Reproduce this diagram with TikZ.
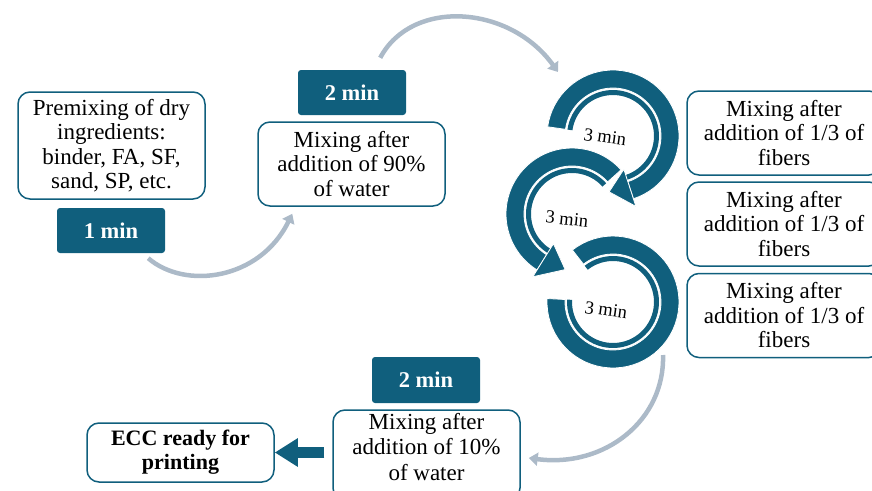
\documentclass[tikz,border=0pt]{standalone}
\usepackage{fontspec}
\setmainfont{Liberation Serif}
\usetikzlibrary{arrows.meta,calc}
\definecolor{ecc}{RGB}{16,95,125}
\definecolor{flow}{RGB}{172,186,200}
\tikzset{
  wbox/.style={draw=ecc, line width=1.5pt, rounded corners=12pt, fill=white, align=center, inner sep=0pt,
    font=\fontsize{23}{24.5}\selectfont},
  tbox/.style={fill=ecc, rounded corners=3pt, text=white, inner sep=0pt,
    font=\fontsize{22.5}{24}\selectfont\bfseries},
  ringlabel/.style={font=\fontsize{18.5}{20}\selectfont, inner sep=0pt},
  flowarrow/.style={draw=flow, line width=4.5pt, -{Triangle[length=9pt,width=13pt]}},
  blockarrow/.style={draw=ecc, line width=11pt, -{Triangle[length=23pt,width=27pt]}}
}
% ring arrow: #1 cx, #2 cy, #3 start angle, #4 end of body, #5 tip angle
\newcommand\ringarrow[5]{%
  \filldraw[ecc, draw=white, line width=0.8pt] plot[domain=#3:#4,samples=50] ({#1+66*cos(\x)},{#2+66*sin(\x)})
     -- plot[domain=#4:#3,samples=50] ({#1+48*cos(\x)},{#2+48*sin(\x)}) -- cycle;
  \fill[ecc] plot[domain=#3:#4,samples=50] ({#1+46*cos(\x)},{#2+46*sin(\x)})
     -- plot[domain=#4:#3,samples=50] ({#1+41*cos(\x)},{#2+41*sin(\x)}) -- cycle;
  \filldraw[ecc, draw=white, line width=0.8pt] ({#1+35*cos(#4)},{#2+35*sin(#4)}) -- ({#1+74*cos(#4)},{#2+74*sin(#4)})
     -- ({#1+56*cos(#5)},{#2+56*sin(#5)}) -- cycle;
}
\newcommand\ringplain[4]{%
  \filldraw[ecc, draw=white, line width=0.8pt] plot[domain=#3:#4,samples=60] ({#1+66*cos(\x)},{#2+66*sin(\x)})
     -- plot[domain=#4:#3,samples=60] ({#1+48*cos(\x)},{#2+48*sin(\x)}) -- cycle;
  \fill[ecc] plot[domain=#3:#4,samples=60] ({#1+46*cos(\x)},{#2+46*sin(\x)})
     -- plot[domain=#4:#3,samples=60] ({#1+41*cos(\x)},{#2+41*sin(\x)}) -- cycle;
}
\begin{document}
\begin{tikzpicture}[x=1pt,y=-1pt]
\useasboundingbox (0,0) rectangle (872,490);
\clip (0,0) rectangle (872,490);

% boxes
\node[wbox, minimum width=187pt, minimum height=107pt] (pre) at (111.5,145.5)
  {Premixing of dry\\ingredients:\\binder, FA, SF,\\sand, SP, etc.};
\node[tbox, minimum width=108pt, minimum height=45pt] (min1) at (111,230.5) {1 min};
\node[tbox, minimum width=108pt, minimum height=45pt] (min2a) at (352,92.5) {2 min};
\node[wbox, minimum width=187pt, minimum height=84pt] (mix90) at (351.5,164)
  {Mixing after\\addition of 90\%\\of water};
\node[wbox, minimum width=194pt, minimum height=84pt] (fib1) at (784,133)
  {Mixing after\\addition of 1/3 of\\fibers};
\node[wbox, minimum width=194pt, minimum height=84pt] (fib2) at (784,224)
  {Mixing after\\addition of 1/3 of\\fibers};
\node[wbox, minimum width=194pt, minimum height=84pt] (fib3) at (784,315.5)
  {Mixing after\\addition of 1/3 of\\fibers};
\node[tbox, minimum width=108pt, minimum height=46pt] (min2b) at (426,380) {2 min};
\node[wbox, minimum width=187pt, minimum height=90pt] (mix10) at (426.5,455) {};
\node[align=center, inner sep=0pt, font=\fontsize{23}{25.5}\selectfont] (mix10t) at (426.5,447)
  {Mixing after\\addition of 10\%\\of water};
\node[wbox, minimum width=187pt, minimum height=59pt, font=\fontsize{22}{24}\selectfont\bfseries] (ecc) at (180.5,452.5)
  {ECC ready for\\printing};

% ring centres
\coordinate (ring1) at (613,136);
\coordinate (ring2) at (572,214);
\coordinate (ring3) at (613,302);

% grey flow arrows
\draw[flowarrow] ($(min1.south east)+(-17,5)$) .. controls (185,290) and (260,280) .. ($(mix90.south west)+(35,7)$);
\draw[flowarrow] ($(min2a.north east)+(-26,-12)$) .. controls (412,-2) and (510,5) .. ($(ring1)+(-55,-64)$);
\draw[flowarrow] ($(ring3)+(50,53)$) .. controls (665,420) and (605,468) .. ($(mix10.east)+(8,3)$);

% block arrow
\draw[blockarrow] ($(mix10.west |- ecc.east)+(-8,0)$) -- (ecc.east);

% circular arrows
\ringplain{613}{302}{232}{543}
\ringarrow{572}{214}{318}{122}{97}
\ringarrow{613}{136}{188}{432}{454}

\node[ringlabel, rotate=-8] (t1) at (605,137) {3 min};
\node[ringlabel, rotate=-6] (t2) at (567,219) {3 min};
\node[ringlabel, rotate=-8] (t3) at (606,310) {3 min};
\end{tikzpicture}
\end{document}
